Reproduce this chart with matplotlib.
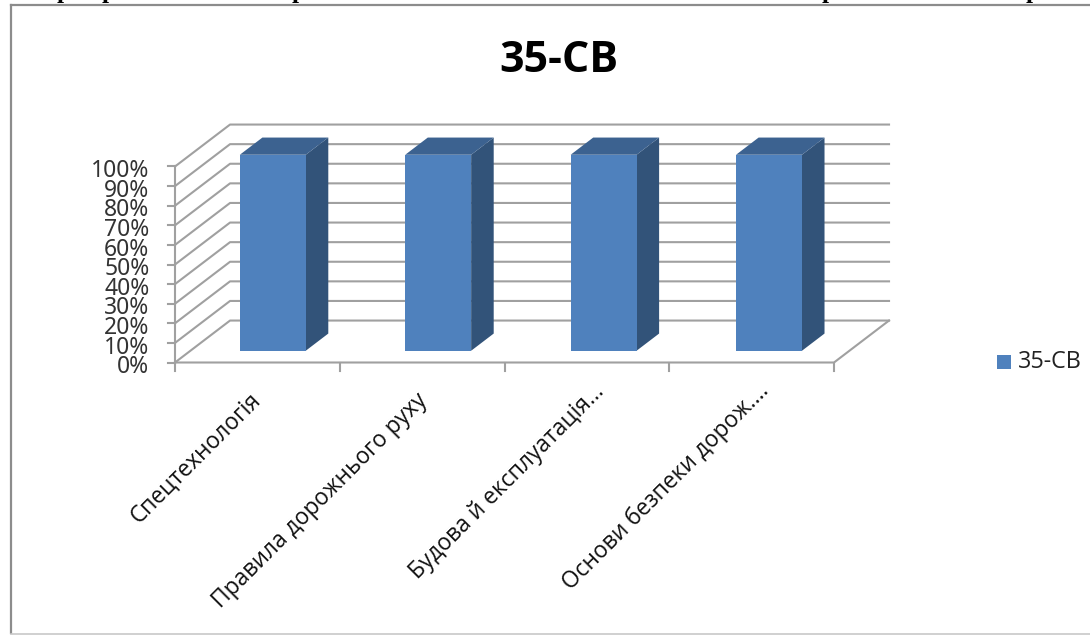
import matplotlib
matplotlib.use("Agg")
import matplotlib.pyplot as plt
from matplotlib.patches import Polygon, Rectangle

title = "35-СВ"
categories = ["Спецтехнологія", "Правила дорожнього руху", "Будова й експлуатація...", "Основи безпеки дорож...."]
values = [100, 100, 100, 100]
y_ticks = [0, 10, 20, 30, 40, 50, 60, 70, 80, 90, 100]

W, H = 1090, 635
BLUE = "#4f81bd"
TOP = "#3c6290"
SIDE = "#325379"
GRID = "#a0a0a0"

# 3d look: depth offset in data units, bars sit part way into the depth
depth_x, depth_y = 0.334, 21.4
bar_w = 0.40
bar_step = 1.004
d_front, d_back = 0.28, 0.69

fig = plt.figure(figsize=(W / 100, H / 100), dpi=100, facecolor="white")
ax = fig.add_axes([175 / W, 1 - 362.5 / H, (834 - 175) / W, 196 / H])
ax.set_xlim(0, len(categories))
ax.set_ylim(0, 100)
ax.axis("off")

for t in y_ticks:
    ax.plot([0, depth_x, len(categories) + depth_x], [t, t + depth_y, t + depth_y],
            color=GRID, lw=1.5, clip_on=False, zorder=1)
    ax.plot([-0.04, 0], [t, t], color=GRID, lw=1.5, clip_on=False, zorder=1)
    ax.text(-0.155, t - 2.4, f"{t}%", ha="right", va="center", fontsize=16.5,
            family="Noto Sans", color="#333333", clip_on=False)

# floor and axis lines
ax.plot([0, len(categories), len(categories) + depth_x], [0, 0, depth_y], color=GRID, lw=1.5, clip_on=False, zorder=1)
ax.plot([0, 0], [0, 100], color=GRID, lw=1.5, clip_on=False, zorder=1)
for i in range(len(categories) + 1):
    ax.plot([i, i], [0, -4.5], color=GRID, lw=1.5, clip_on=False, zorder=1)

for i, v in enumerate(values):
    x0 = i * bar_step + 0.5 - bar_w / 2 + d_front * depth_x
    x1 = x0 + bar_w
    y0 = d_front * depth_y
    y1 = y0 + v
    dx = (d_back - d_front) * depth_x
    dy = (d_back - d_front) * depth_y
    ax.add_patch(Polygon([(x1, y0), (x1 + dx, y0 + dy), (x1 + dx, y1 + dy), (x1, y1)],
                         facecolor=SIDE, edgecolor="none", clip_on=False, zorder=3))
    ax.add_patch(Polygon([(x0, y1), (x0 + dx, y1 + dy), (x1 + dx, y1 + dy), (x1, y1)],
                         facecolor=TOP, edgecolor="none", clip_on=False, zorder=3))
    ax.add_patch(Rectangle((x0, y0), bar_w, v, facecolor=BLUE, edgecolor="none", clip_on=False, zorder=4))

label_ends = [(249, 388), (415, 389), (592, 380), (757, 379)]
for name, (px, py) in zip(categories, label_ends):
    fig.text(px / W, 1 - py / H, name, rotation=45, rotation_mode="anchor", ha="right", va="top",
             fontsize=16.4, family="Open Sans", color="#111111")

fig.text(559 / W, 1 - 60 / H, title, ha="center", va="center", fontsize=31, fontweight="bold",
         family="Open Sans", color="black")

# legend
fig.patches.append(Rectangle((997 / W, 1 - 369 / H), 14 / W, 14 / H, transform=fig.transFigure, facecolor=BLUE, edgecolor="none"))
fig.text(1018 / W, 1 - 362 / H, title, ha="left", va="center", fontsize=16.8, family="Open Sans", color="#222222")

# outer frame
fig.add_artist(plt.Line2D([11 / W, 11 / W], [1 - 5 / H, 1 - 633 / H], color="#8c8c8c", lw=1.6))
fig.add_artist(plt.Line2D([11 / W, 1], [1 - 5 / H, 1 - 5 / H], color="#8c8c8c", lw=1.6))
fig.add_artist(plt.Line2D([11 / W, 1], [1 - 633.5 / H, 1 - 633.5 / H], color="#c8c8c8", lw=1.2))

# feet of the cropped line of text above the chart
for px in [63.5, 109, 299, 829, 1033]:
    fig.text(px / W, 1 + 2 / H, "р", ha="center", va="baseline", fontsize=18, fontweight="bold",
             family="Liberation Serif", color="black")

fig.savefig("out.png", dpi=100)
